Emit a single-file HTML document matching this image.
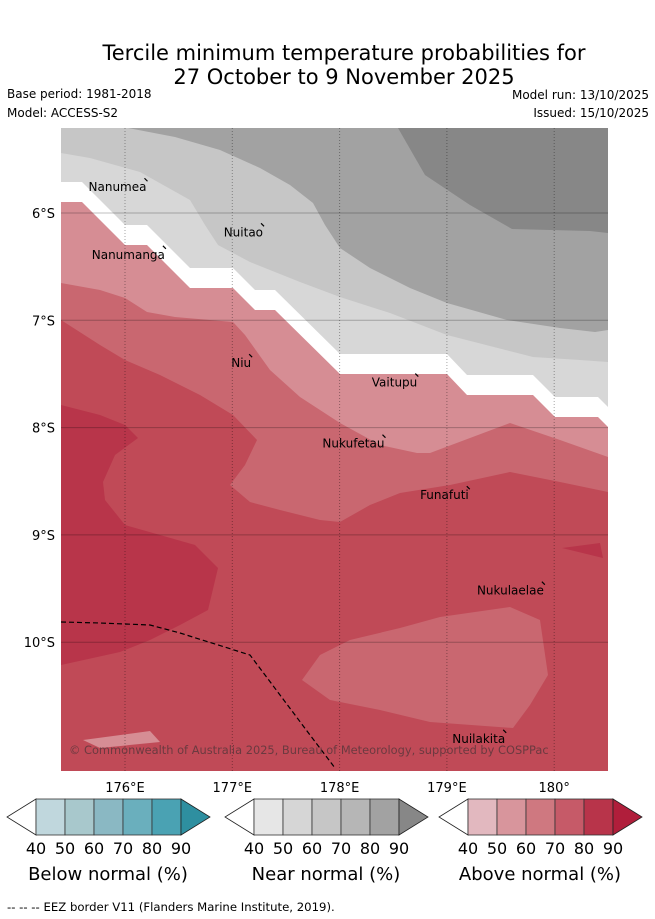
<!DOCTYPE html>
<html><head><meta charset="utf-8">
<style>
body{margin:0;background:#fff;width:655px;height:919px;overflow:hidden;font-family:"DejaVu Sans","Liberation Sans",sans-serif;}
svg{position:absolute;left:0;top:0}
</style></head>
<body>
<svg id="chart" width="655" height="919" viewBox="0 0 655 919" font-family="DejaVu Sans, Liberation Sans, sans-serif">
<text x="344" y="60" text-anchor="middle" font-size="21">Tercile minimum temperature probabilities for</text>
<text x="344" y="84" text-anchor="middle" font-size="21">27 October to 9 November 2025</text>
<text x="7" y="98" font-size="12">Base period: 1981-2018</text>
<text x="7" y="117" font-size="12">Model: ACCESS-S2</text>
<text x="649" y="99" font-size="12" text-anchor="end">Model run: 13/10/2025</text>
<text x="649" y="117" font-size="12" text-anchor="end">Issued: 15/10/2025</text>
<defs><clipPath id="mapclip"><rect x="61" y="128" width="547" height="643"/></clipPath></defs>
<g id="map" clip-path="url(#mapclip)"></g>
<g id="overlay"></g>
<text x="7" y="911" font-size="11.7">--  --  -- EEZ border V11 (Flanders Marine Institute, 2019).</text>
</svg>
<script>
const lonTicks=[176,177,178,179,180];
const lonLabels=["176°E","177°E","178°E","179°E","180°"];
const latTicks=[6,7,8,9,10];
const latLabels=["6°S","7°S","8°S","9°S","10°S"];
const islandNames=["Nanumea","Nanumanga","Nuitao","Niu","Vaitupu","Nukufetau","Funafuti","Nukulaelae","Nuilakita"];
const islandLon=[175.66,175.69,176.92,176.99,178.3,177.84,178.75,179.28,179.05];
const islandLat=[5.76,6.39,6.18,7.4,7.58,8.15,8.63,9.52,10.9];
const cbTicks=[40,50,60,70,80,90];
const cbTitles=["Below normal (%)","Near normal (%)","Above normal (%)"];
const cbColors=[["#c0d7dd","#a8c8cc","#8ab8c3","#6aafbd","#4aa2b3","#2e8fa0"],
["#e6e6e6","#d6d6d6","#c6c6c6","#b6b6b6","#a2a2a2","#878787"],
["#e2b8bf","#d8959c","#cf7880","#c65a68","#b8344a","#b01e3b"]];
const X=lon=>125+(lon-176)*107.3;
const Y=lat=>213+(lat-6)*107.3;
const bDark=[[398,128],[425,175],[470,205],[512,229],[550,230],[590,231],[608,233]];
const bGrey=[[128,128],[175,137],[220,150],[260,168],[290,185],[313,203],[325,225],[340,248],[370,268],[410,288],[447,303],[507,320],[560,328],[595,332],[608,330]];
const bLight=[[61,153],[90,158],[140,172],[190,200],[205,225],[218,245],[250,262],[300,282],[340,297],[390,313],[447,335],[533,357],[580,360],[608,362]];
const bWhite=[[61,182],[82,182],[125,225],[147,225],[190,268],[233,268],[255,290],[275,290],[340,354],[447,354],[467,375],[533,375],[555,397],[598,397],[608,407]];
const bMed=[[61,283],[100,290],[125,298],[147,312],[175,317],[233,322],[245,335],[270,370],[300,397],[340,423],[380,445],[417,453],[430,453],[470,438],[510,423],[560,440],[608,457]];
const bRed=[[61,320],[100,345],[125,360],[160,375],[200,395],[233,415],[257,440],[245,465],[230,485],[250,502],[280,510],[320,520],[340,522],[370,505],[400,493],[450,485],[510,472],[560,482],[608,492]];
const pDark=[[61,405],[100,415],[125,425],[138,438],[115,455],[103,482],[105,500],[125,525],[160,535],[195,545],[218,568],[208,610],[180,625],[150,640],[120,652],[61,665]];
const pDark2=[[562,548],[600,543],[603,558]];
const pMedBlob=[[302,680],[320,655],[350,640],[400,628],[440,617],[510,607],[540,620],[548,675],[530,705],[513,728],[430,722],[380,710],[330,700]];
const pPinkBlob=[[83,740],[150,731],[160,742],[100,748]];
const eez=[[61,622],[100,623],[150,625],[180,633],[250,655],[280,695],[310,735],[335,768]];
const NS="http://www.w3.org/2000/svg";
const map=document.getElementById('map'),ov=document.getElementById('overlay');
function mk(tag,attrs,parent){const e=document.createElementNS(NS,tag);for(const k in attrs)e.setAttribute(k,attrs[k]);parent.appendChild(e);return e;}
function belowFull(b,fill,name){let pts=[];if(b[0][0]>61)pts.push([55,120],[b[0][0],120]);pts=pts.concat(b);pts.push([615,b[b.length-1][1]],[615,800],[55,800]);
 const p=mk('polygon',{points:pts.map(q=>q.join(',')).join(' '),fill:fill},map);
 
 }
function poly(pts,fill,name){const p=mk('polygon',{points:pts.map(q=>q.join(',')).join(' '),fill:fill},map);
 
 }
const bg=mk('rect',{x:55,y:120,width:560,height:680,fill:'#878787'},map);


belowFull(bDark,'#a2a2a2','near-normal-80-region');
belowFull(bGrey,'#c6c6c6','near-normal-60-region');
belowFull(bLight,'#d7d7d7','near-normal-50-region');
belowFull(bWhite,'#ffffff','no-dominant-category-band');
belowFull(bWhite.map(q=>[q[0],q[1]+20]),'#d68d94','above-normal-50-region');
belowFull(bMed,'#c96770','above-normal-60-region');
belowFull(bRed,'#c04a57','above-normal-70-region');
poly(pDark,'#b8354a','above-normal-80-region');
poly(pDark2,'#b8354a','above-normal-80-patch');
poly(pMedBlob,'#c96770','above-normal-60-blob');
poly(pPinkBlob,'#d68d94','above-normal-50-blob');
lonTicks.forEach((t,i)=>{const l=mk('line',{x1:X(t),x2:X(t),y1:128,y2:771,stroke:'rgba(0,0,0,0.35)','stroke-width':1,'stroke-dasharray':'1,2'},map);
 
 
 const tx=mk('text',{x:X(t),y:792,'font-size':13,'text-anchor':'middle'},ov);tx.textContent=lonLabels[i];
 
 });
latTicks.forEach((t,i)=>{const l=mk('line',{x1:61,x2:608,y1:Y(t),y2:Y(t),stroke:'rgba(0,0,0,0.25)','stroke-width':1},map);
 
 
 const tx=mk('text',{x:55,y:Y(t)+5,'font-size':13,'text-anchor':'end'},ov);tx.textContent=latLabels[i];
 
 });
const ez=mk('polyline',{points:eez.map(q=>q.join(',')).join(' '),fill:'none',stroke:'#000','stroke-width':1.2,'stroke-dasharray':'5,3'},map);


islandNames.forEach((n,i)=>{const x=X(islandLon[i]),y=Y(islandLat[i]);
 const t=mk('text',{x:x,y:y+4,'font-size':12},map);t.textContent=n;
 
 
 const w=t.getComputedTextLength();
 const d=mk('path',{d:`M${x+w-2} ${y-9} l3 3`,stroke:'#000','stroke-width':1.2},map);
 
 });
const cp=mk('text',{x:69,y:754,'font-size':11.4,fill:'#6b3a40'},map);cp.textContent='© Commonwealth of Australia 2025, Bureau of Meteorology, supported by COSPPac';


const cbLeft=[36,254,468];
cbColors.forEach((cols,k)=>{const x0=cbLeft[k],y0=799,h=36,w=29;
 const g=mk('g',{},ov);
 
 
 mk('polygon',{points:`${x0},${y0} ${x0-29},${y0+h/2} ${x0},${y0+h}`,fill:'#fff',stroke:'#222','stroke-width':0.8},g);
 for(let i=0;i<5;i++)mk('rect',{x:x0+i*w,y:y0,width:w,height:h,fill:cols[i],stroke:'#333','stroke-width':0.8},g);
 mk('polygon',{points:`${x0+5*w},${y0} ${x0+5*w+29},${y0+h/2} ${x0+5*w},${y0+h}`,fill:cols[5],stroke:'#222','stroke-width':0.8},g);
 cbTicks.forEach((v,i)=>{const t=mk('text',{x:x0+i*w,y:854,'font-size':16,'text-anchor':'middle'},g);t.textContent=v;
  
  });
 const tt=mk('text',{x:x0+72,y:880,'font-size':18,'text-anchor':'middle'},g);tt.textContent=cbTitles[k];
 
 
});
</script>
</body></html>
